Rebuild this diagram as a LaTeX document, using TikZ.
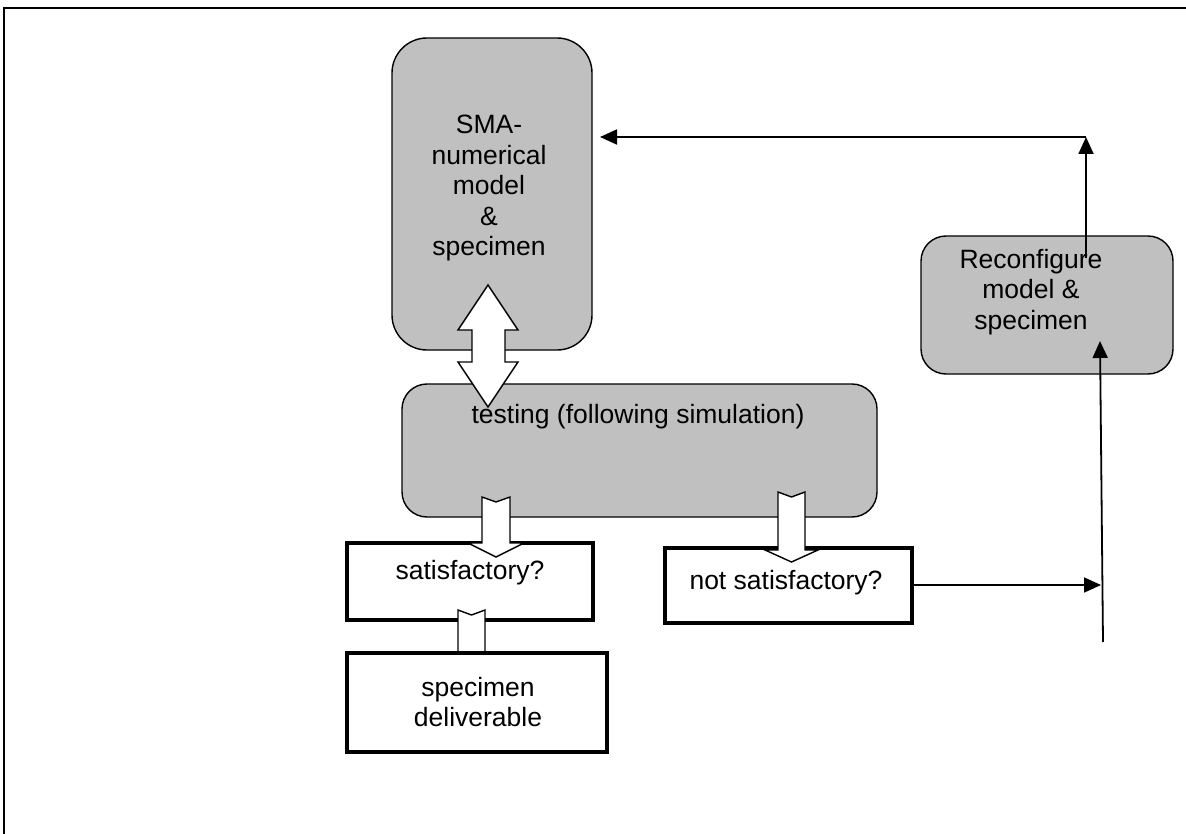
\documentclass[tikz,border=0pt]{standalone}
\usepackage{fontspec}
\setmainfont{Liberation Sans}
\usetikzlibrary{arrows.meta}
\definecolor{boxgray}{HTML}{C0C0C0}
\begin{document}
\begin{tikzpicture}[x=1pt,y=-1pt,
  graybox/.style={draw=black, line width=1.4pt, fill=boxgray, rounded corners=#1, inner sep=0pt},
  whitebox/.style={draw=black, line width=3.3pt, fill=white, inner sep=0pt},
  txt/.style={align=center, inner sep=0pt, font=\fontsize{26.5}{30.5}\selectfont},
  conn/.style={line width=1.8pt, -{Triangle[length=17pt,width=15pt]}},
  blockarrow/.style={draw=black, line width=1.4pt, fill=white, line join=miter}
]
\useasboundingbox (0,0) rectangle (1186,834);
% frame
\draw[line width=1.5pt] (4,834) -- (4,8) -- (1186,8);

% gray boxes
\node[graybox=35pt, minimum width=200pt, minimum height=312pt] (sma) at (492,194) {};
\node[graybox=25pt, minimum width=475pt, minimum height=133pt] (test) at (639.5,450.5) {};
\node[graybox=25pt, minimum width=252pt, minimum height=138pt] (reconf) at (1047,305) {};

\node[txt] (smaT) at (489,188) {SMA-\\numerical\\model\\\&\\specimen};
\node[txt] (reconfT) at (1031,292) {Reconfigure\\model \&\\specimen};

% connectors on the right
\coordinate (upS) at (1086,258);
\coordinate (corner) at (1086,137);
\coordinate (smaIn) at (600,137);
\draw[conn] (upS) -- (corner);
\draw[conn] (corner) -- (smaIn);

% white boxes
\node[whitebox, minimum width=246pt, minimum height=77pt] (sat) at (470,581.5) {};
\node[txt] (satT) at (470,573) {satisfactory?};
\node[whitebox, minimum width=247pt, minimum height=75pt] (notsat) at (788.5,585.5) {};
\node[txt] (notsatT) at (786,583) {not satisfactory?};

\coordinate (bottomS) at (1103,642);
\coordinate (reconfIn) at (1100,341);
\coordinate (joinP) at (1101,585);
\draw[conn] (bottomS) -- (reconfIn);
\draw[conn] (notsat.east |- joinP) -- (joinP);

% double block arrow between SMA and testing
\path[blockarrow] (488,285) -- (518,330) -- (505,330) -- (505,362) -- (518,362) -- (488,407)
  -- (458,362) -- (472,362) -- (472,330) -- (458,330) -- cycle;

% block arrows from testing
\path[blockarrow] (482,497) -- (496,502) -- (510,497) -- (510,543) -- (524,543) -- (496,557)
  -- (468,543) -- (482,543) -- cycle;
\path[blockarrow] (778,492) -- (791.5,497) -- (805,492) -- (805,550) -- (818,550) -- (791.5,562)
  -- (765,550) -- (778,550) -- cycle;

% block arrow satisfactory -> deliverable (tail only visible)
\path[blockarrow] (458,610) -- (471.5,615) -- (485,610) -- (485,660) -- (458,660) -- cycle;

\node[whitebox, minimum width=260pt, minimum height=99pt] (deliv) at (477,702.5) {};
\node[txt] (delivT) at (478,702) {specimen\\deliverable};

\node[txt] (testT) at (638,417) {testing (following simulation)};
\end{tikzpicture}
\end{document}
